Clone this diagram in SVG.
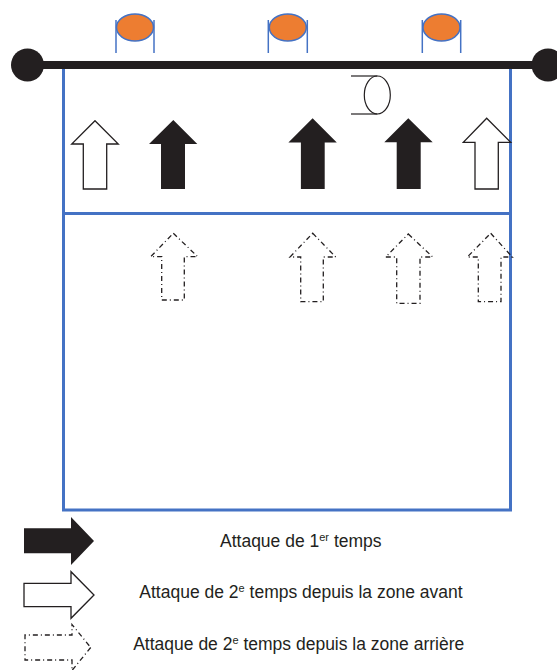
<svg xmlns="http://www.w3.org/2000/svg" width="557" height="670" viewBox="0 0 557 670">
<style>
.court{fill:none;stroke:#4472C4;stroke-width:3}
.net{stroke:#231F20;stroke-width:8}
.ball{fill:#231F20}
.player{fill:#ED7D31;stroke:#4472C4;stroke-width:1.5}
.pline{stroke:#4472C4;stroke-width:1.5}
.solid{fill:#231F20;stroke:none}
.open{fill:#fff;stroke:#231F20;stroke-width:1.3;stroke-linejoin:miter}
.dash{fill:none;stroke:#231F20;stroke-width:1.3;stroke-dasharray:5 3 1 3}
.blk{fill:none;stroke:#231F20;stroke-width:1.2}
.lbl{font-family:"Liberation Sans",Arial,sans-serif;font-size:17.5px;fill:#231F20}
</style>
<rect width="557" height="670" fill="#fff"/>
<g id="court">
<rect class="court" x="63.5" y="66" width="447" height="444"/>
<line class="court" x1="63.5" y1="213.5" x2="510.5" y2="213.5"/>
</g>
<g id="net">
<line class="net" x1="27" y1="65" x2="548" y2="65"/>
<circle class="ball" cx="27.5" cy="65" r="16.5"/>
<circle class="ball" cx="548" cy="65" r="16.5"/>
</g>
<g id="player1">
<line class="pline" x1="116" y1="20" x2="116" y2="53"/>
<line class="pline" x1="154" y1="20" x2="154" y2="53"/>
<ellipse class="player" cx="135" cy="27.5" rx="18.5" ry="13.5"/>
</g>
<g id="player2">
<line class="pline" x1="268.3" y1="20" x2="268.3" y2="53"/>
<line class="pline" x1="307.3" y1="20" x2="307.3" y2="53"/>
<ellipse class="player" cx="287.8" cy="27.5" rx="18.5" ry="13.5"/>
</g>
<g id="player3">
<line class="pline" x1="422.3" y1="20" x2="422.3" y2="53"/>
<line class="pline" x1="460.7" y1="20" x2="460.7" y2="53"/>
<ellipse class="player" cx="441.5" cy="27.5" rx="18.5" ry="13.5"/>
</g>
<g id="block">
<line class="blk" x1="351" y1="76" x2="377.3" y2="76"/>
<line class="blk" x1="351" y1="114" x2="377.3" y2="114"/>
<ellipse class="blk" cx="377.3" cy="95" rx="13" ry="19"/>
</g>
<g id="arrow-open-left">
<polygon class="open" points="95,120.7 118.3,144 106.7,144 106.7,189 83.3,189 83.3,144 71.7,144"/>
</g>
<g id="arrow-solid-1">
<polygon class="solid" points="173.3,120 197.3,144 185,144 185,189 161,189 161,144 149,144"/>
</g>
<g id="arrow-solid-2">
<polygon class="solid" points="312.6,118.3 336.8,142.5 324.7,142.5 324.7,189 300.9,189 300.9,142.5 288.4,142.5"/>
</g>
<g id="arrow-solid-3">
<polygon class="solid" points="408.3,118.3 432.7,142.3 420.7,142.3 420.7,189 396.7,189 396.7,142.3 384.3,142.3"/>
</g>
<g id="arrow-open-right">
<polygon class="open" points="486.7,118.3 510.7,142.3 498.3,142.3 498.3,189 475,189 475,142.3 463.3,142.3"/>
</g>
<g id="arrow-dash-1">
<polygon class="dash" points="173.3,233.3 197.7,256.7 184.3,256.7 184.3,300 161.7,300 161.7,256.7 150.7,256.7"/>
</g>
<g id="arrow-dash-2">
<polygon class="dash" points="312.7,233.3 335.7,257 323.3,257 323.3,301.7 300.7,301.7 300.7,257 290,257"/>
</g>
<g id="arrow-dash-3">
<polygon class="dash" points="408.3,234 432.7,257 420,257 420,303.3 396.7,303.3 396.7,257 385.7,257"/>
</g>
<g id="arrow-dash-4">
<polygon class="dash" points="490.7,233.3 512.3,257 501,257 501,301.7 478.3,301.7 478.3,257 467.3,257"/>
</g>
<g id="legend-solid">
<polygon class="solid" points="94,541 71,565 71,553.3 24,553.3 24,528.3 71,528.3 71,517"/>
<text class="lbl" x="220" y="546.5">Attaque de 1<tspan font-size="11" dy="-6">er</tspan><tspan dy="6"> temps</tspan></text>
</g>
<g id="legend-open">
<polygon class="open" points="94,595 71,618.3 71,606.7 24,606.7 24,583.3 71,583.3 71,571.7"/>
<text class="lbl" x="139.3" y="598">Attaque de 2<tspan font-size="11" dy="-6">e</tspan><tspan dy="6"> temps depuis la zone avant</tspan></text>
</g>
<g id="legend-dash">
<polygon class="dash" points="90.7,647.5 72,670.5 72,660 25,660 25,635 72,635 72,624.5"/>
<text class="lbl" x="133.2" y="649.5">Attaque de 2<tspan font-size="11" dy="-6">e</tspan><tspan dy="6"> temps depuis la zone arrière</tspan></text>
</g>
</svg>
